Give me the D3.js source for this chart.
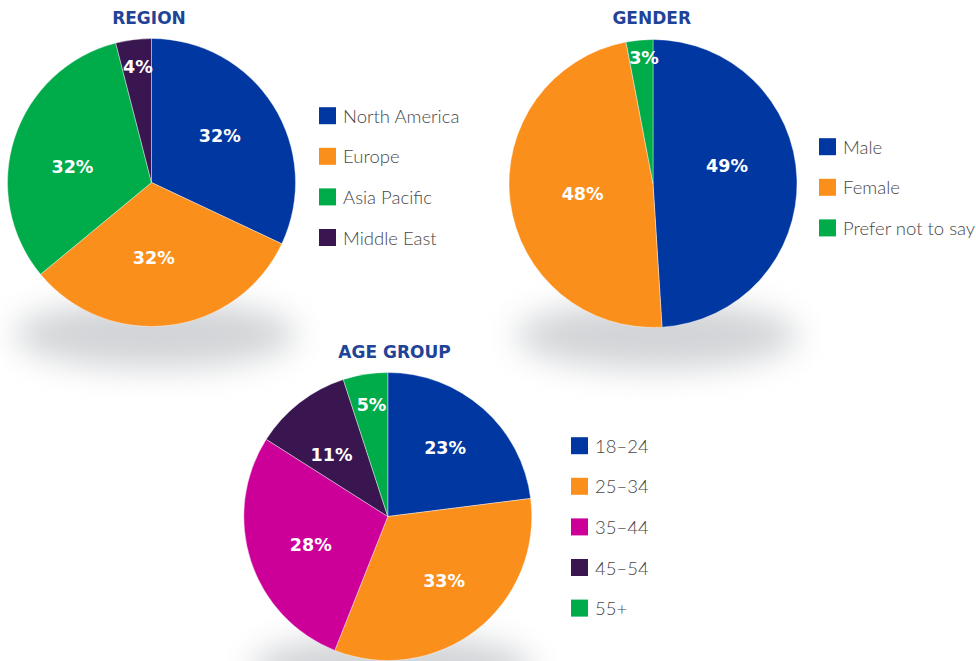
<!DOCTYPE html>
<html>
<head>
<meta charset="utf-8">
<script src="https://cdn.jsdelivr.net/npm/d3@7"></script>
<style>
  html, body { margin: 0; padding: 0; background: #ffffff; }
  svg { display: block; }
</style>
</head>
<body>
<svg id="chart" width="976" height="661"></svg>
<script>
// ---- data ----
const regionCategories = ["North America", "Europe", "Asia Pacific", "Middle East"];
const regionValues = [32, 32, 32, 4];

const genderCategories = ["Male", "Female", "Prefer not to say"];
const genderValues = [49, 48, 3];

const ageCategories = ["18–24", "25–34", "35–44", "45–54", "55+"];
const ageValues = [23, 33, 28, 11, 5];

const chartTitles = ["REGION", "GENDER", "AGE GROUP"];

// ---- styles ----
const BLUE = "#0037a0", ORANGE = "#fb8f1c", GREEN = "#00ab4a", PURPLE = "#3a1650", MAGENTA = "#cc0099";
const regionColors = [BLUE, ORANGE, GREEN, PURPLE];
const genderColors = [BLUE, ORANGE, GREEN];
const ageColors = [BLUE, ORANGE, MAGENTA, PURPLE, GREEN];

// small label nudges (px) relative to the computed label anchor
const regionLabelNudge = [[-1, -3], [-8, -6], [-1, 10], [1, 0]];
const genderLabelNudge = [[-8, -15], [11, 0], [2, -9]];
const ageLabelNudge = [[3, -7], [6, 0], [1, 3], [-6, 3], [2, 4]];

// ---- layout ----
const R = 144;
const layout = [
  { cx: 151.5, cy: 182.5, titleX: 149,   titleY: 23.5,  legendX: 319, legendY: 115.7 },
  { cx: 653,   cy: 183.5, titleX: 651.7, titleY: 23.5,  legendX: 819, legendY: 146.7 },
  { cx: 387.8, cy: 516.5, titleX: 394.5, titleY: 357.5, legendX: 571, legendY: 445.7 }
];
const legendStep = 40.6;

const charts = [
  { cats: regionCategories, vals: regionValues, colors: regionColors, nudge: regionLabelNudge },
  { cats: genderCategories, vals: genderValues, colors: genderColors, nudge: genderLabelNudge },
  { cats: ageCategories,    vals: ageValues,    colors: ageColors,    nudge: ageLabelNudge }
];

const svg = d3.select("#chart");
const defs = svg.append("defs");
defs.append("filter").attr("id", "shadowBlur")
  .attr("x", "-50%").attr("y", "-150%").attr("width", "200%").attr("height", "400%")
  .append("feGaussianBlur").attr("stdDeviation", 16);

const pie = d3.pie().sort(null).value(d => d);
const arc = d3.arc().innerRadius(0).outerRadius(R);

charts.forEach((c, i) => {
  const L = layout[i];
  const color = d3.scaleOrdinal().domain(c.cats).range(c.colors);

  // shadow
  svg.append("ellipse")
    .attr("cx", L.cx + 4).attr("cy", L.cy + R + 8)
    .attr("rx", R * 0.98).attr("ry", 34)
    .attr("fill", "#d2d4d7")
    .attr("filter", "url(#shadowBlur)");

  const g = svg.append("g").attr("transform", `translate(${L.cx},${L.cy})`);
  const arcs = pie(c.vals);
  g.selectAll("path").data(arcs).enter().append("path")
    .attr("d", arc)
    .attr("fill", (d, j) => color(c.cats[j]))
    .attr("stroke", "#ffffff").attr("stroke-width", 0.4);

  g.selectAll("text").data(arcs).enter().append("text")
    .attr("transform", (d, j) => {
      const rr = d.data < 6 ? R * 0.81 : R * 0.57;
      const a = (d.startAngle + d.endAngle) / 2;
      const n = c.nudge[j];
      return `translate(${rr * Math.sin(a) + n[0]},${-rr * Math.cos(a) + n[1]})`;
    })
    .attr("text-anchor", "middle")
    .attr("dominant-baseline", "central")
    .attr("font-family", "'DejaVu Sans', sans-serif")
    .attr("font-weight", 700)
    .attr("font-size", 17.5)
    .attr("fill", "#ffffff")
    .text(d => d.data + "%");

  // title
  svg.append("text")
    .attr("x", L.titleX).attr("y", L.titleY)
    .attr("text-anchor", "middle")
    .attr("font-family", "'DejaVu Sans', sans-serif")
    .attr("font-weight", 700)
    .attr("font-size", 17)
    .attr("fill", "#1f4396")
    .text(chartTitles[i]);

  // legend
  const lg = svg.append("g");
  const rows = lg.selectAll("g").data(c.cats).enter().append("g")
    .attr("transform", (d, j) => `translate(${L.legendX},${L.legendY + j * legendStep})`);
  rows.append("rect")
    .attr("x", 0).attr("y", -8.5).attr("width", 17).attr("height", 17)
    .attr("fill", d => color(d));
  rows.append("text")
    .attr("x", 24).attr("y", 0)
    .attr("dominant-baseline", "central")
    .attr("font-family", "Lato, sans-serif")
    .attr("font-weight", 300)
    .attr("font-size", 18.5)
    .attr("fill", "#474747")
    .text(d => d);
});
</script>
</body>
</html>
